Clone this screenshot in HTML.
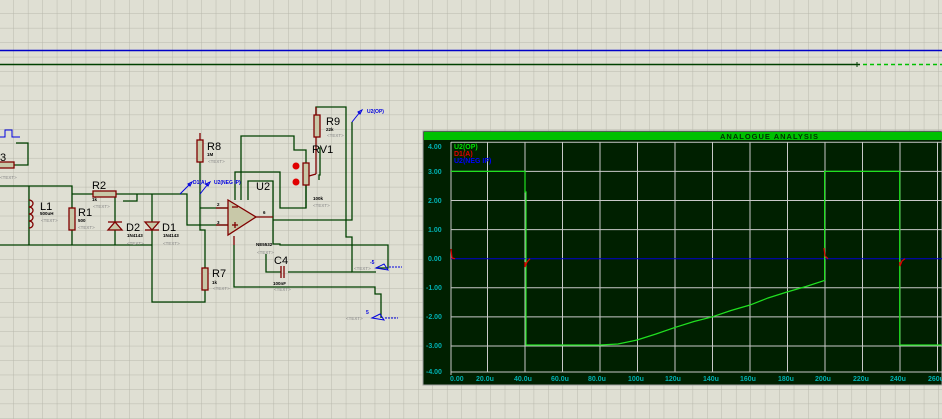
<!DOCTYPE html>
<html><head><meta charset="utf-8"><style>
html,body{margin:0;padding:0;background:#dfdfd3;overflow:hidden}
svg{display:block}
text{font-family:"Liberation Sans",sans-serif}
</style></head><body>
<svg width="942" height="419" viewBox="0 0 942 419" xmlns="http://www.w3.org/2000/svg">
<defs>
<pattern id="g" width="14.45" height="14.45" patternUnits="userSpaceOnUse" x="-0.5" y="-0.5">
<path d="M14.45 0V14.45M0 14.45H14.45" stroke="#b8b8ac" stroke-width="1" fill="none"/>
</pattern>
</defs>
<rect width="942" height="419" fill="#dfdfd3"/>
<rect width="942" height="419" fill="url(#g)"/>
<!-- top lines -->
<line x1="0" y1="50.5" x2="942" y2="50.5" stroke="#0000c8" stroke-width="1.5"/>
<line x1="0" y1="64.5" x2="860" y2="64.5" stroke="#004000" stroke-width="1.5"/>
<line x1="857" y1="62" x2="857" y2="67" stroke="#004000"/>
<line x1="863" y1="64.5" x2="942" y2="64.5" stroke="#00c000" stroke-width="1.5" stroke-dasharray="4,3"/>

<g fill="none" stroke="#004000" stroke-width="1.3">
<!-- left source -->
<polyline points="14,165 28,165 28,143 16,143"/>
<polyline points="0,186 72,186 72,208"/>
<line x1="29" y1="186" x2="29" y2="245"/>
<polyline points="0,245 152,245"/>
<line x1="72" y1="230" x2="72" y2="245"/>
<polyline points="72,194 93,194"/>
<polyline points="116,194 187,194 187,225 228,225"/>
<polyline points="123,201 137,201 137,194"/>
<line x1="115" y1="194" x2="115" y2="245"/>
<polyline points="152,194 152,302 205,302 205,290"/>
<polyline points="205,268 205,230 200,230 200,162"/>
<polyline points="200,208 228,208"/>
<!-- op amp surroundings -->
<polyline points="241,200 241,136 294,136 294,150 306,150 306,163"/>
<polyline points="235,200 235,172 280,172 280,208 306,208 306,185"/>
<polyline points="248,200 248,181 273,181 273,244 280,244 280,245 388,245 388,268 376,268"/>
<polyline points="273,220 352,220 352,122"/>
<polyline points="306,185 306,208"/>
<polyline points="316,133 316,107 346,107 346,237 352,237 352,272 376,272"/>
<polyline points="319,180 319,175 320,175 320,148 319,148"/>
<polyline points="234,245 234,287 375,287 375,294 381,294 381,318"/>
<polyline points="266,254 266,272 281,272"/>
<polyline points="288,272 352,272"/>
</g>

<!-- components (maroon) -->
<g fill="#c8c8a8" stroke="#800000" stroke-width="1.3">
<rect x="-6" y="162" width="20" height="6"/>
<rect x="69" y="208" width="6" height="22"/>
<rect x="93" y="191" width="23" height="6"/>
<rect x="197" y="140" width="6" height="22"/>
<rect x="202" y="268" width="6" height="22"/>
<rect x="314" y="115" width="6" height="22"/>
<rect x="303" y="163" width="6" height="22"/>
<polygon points="228,200 228,235 256,217"/>
</g>
<g fill="none" stroke="#800000" stroke-width="1.3">
<line x1="200" y1="133" x2="200" y2="140"/>
<line x1="316" y1="107" x2="316" y2="115"/>
<line x1="316" y1="137" x2="316" y2="174"/>
<line x1="316" y1="174" x2="309" y2="176"/>
<path d="M29,200 a4,3.5 0 1 1 0,7 a4,3.5 0 1 1 0,7 a4,3.5 0 1 1 0,7 a4,3.5 0 1 1 0,7"/>
<polygon points="108,230 122,230 115,222" fill="#c8c8a8"/>
<line x1="108" y1="222" x2="122" y2="222"/>
<polygon points="145,222 159,222 152,230" fill="#c8c8a8"/>
<line x1="145" y1="230" x2="159" y2="230"/>
<line x1="216" y1="208" x2="228" y2="208"/>
<line x1="216" y1="225" x2="228" y2="225"/>
<line x1="256" y1="217" x2="273" y2="217"/>
<line x1="234" y1="236" x2="234" y2="245"/>
<line x1="281" y1="266" x2="281" y2="278"/>
<line x1="284" y1="266" x2="284" y2="278"/>
<line x1="232" y1="207" x2="238" y2="207"/>
<line x1="232" y1="225" x2="238" y2="225"/><line x1="235" y1="222" x2="235" y2="228"/>
</g>
<circle cx="296" cy="166" r="3.5" fill="#e00000"/>
<circle cx="296" cy="182" r="3.5" fill="#e00000"/>

<!-- labels -->
<g font-size="11" fill="#000">
<text x="0" y="161">3</text>
<text x="40" y="210">L1</text>
<text x="78" y="216">R1</text>
<text x="92" y="189">R2</text>
<text x="126" y="231">D2</text>
<text x="162" y="231">D1</text>
<text x="207" y="150">R8</text>
<text x="212" y="277">R7</text>
<text x="256" y="190">U2</text>
<text x="274" y="264">C4</text>
<text x="326" y="125">R9</text>
<text x="312" y="153">RV1</text>
</g>
<g font-size="4.5" fill="#000" font-weight="bold">
<text x="40" y="215">500uH</text>
<text x="78" y="222">500</text>
<text x="92" y="201">1k</text>
<text x="127" y="237">1N4143</text>
<text x="163" y="237">1N4143</text>
<text x="207" y="156">1M</text>
<text x="212" y="284">1k</text>
<text x="326" y="131">22k</text>
<text x="313" y="200">100k</text>
<text x="273" y="285">100nF</text>
<text x="256" y="246">NE5532</text>
<text x="217" y="206">2</text><text x="217" y="224">3</text><text x="263" y="214">6</text>
</g>
<g font-size="4.5" fill="#888">
<text x="0" y="179">&lt;TEXT&gt;</text>
<text x="41" y="222">&lt;TEXT&gt;</text>
<text x="78" y="229">&lt;TEXT&gt;</text>
<text x="93" y="208">&lt;TEXT&gt;</text>
<text x="127" y="245">&lt;TEXT&gt;</text>
<text x="163" y="245">&lt;TEXT&gt;</text>
<text x="208" y="163">&lt;TEXT&gt;</text>
<text x="213" y="290">&lt;TEXT&gt;</text>
<text x="327" y="137">&lt;TEXT&gt;</text>
<text x="313" y="207">&lt;TEXT&gt;</text>
<text x="257" y="254">&lt;TEXT&gt;</text>
<text x="274" y="291">&lt;TEXT&gt;</text>
<text x="354" y="270">&lt;TEXT&gt;</text>
<text x="346" y="320">&lt;TEXT&gt;</text>
</g>
<!-- probes -->
<g fill="none" stroke="#0000e0" stroke-width="1">
<polyline points="0,137 5,137 5,130 12,130 12,137 20,137"/>
<line x1="180" y1="194" x2="190" y2="184"/><polygon points="188,184 192,182 190,186"/>
<line x1="200" y1="194" x2="208" y2="184"/><polygon points="206,184 210,182 208,186"/>
<line x1="352" y1="122" x2="360" y2="112"/><polygon points="358,112 362,110 360,114"/>
<polygon points="376,268 384,264 388,270"/><line x1="389" y1="267" x2="402" y2="267" stroke-dasharray="2,1"/>
<polygon points="372,318 380,314 384,320"/><line x1="385" y1="318" x2="398" y2="318" stroke-dasharray="2,1"/>
</g>
<g font-size="5" fill="#0000e0" font-weight="bold">
<text x="193" y="184">D1(A)</text>
<text x="214" y="184">U2(NEG IP)</text>
<text x="367" y="113">U2(OP)</text>
<text x="370" y="264">-5</text>
<text x="366" y="314">5</text>
</g>

<!-- analysis graph -->
<rect x="423" y="131" width="519" height="254" fill="#002000" stroke="#a0a0a0"/>
<rect x="424" y="132" width="518" height="8" fill="#00c000"/>
<text x="720" y="139" font-size="7.5" fill="#003000" font-weight="bold" letter-spacing="1">ANALOGUE ANALYSIS</text>
<g stroke="#c8c8c8" stroke-width="1">
<line x1="451" y1="142" x2="451" y2="375"/>
<line x1="487.5" y1="142" x2="487.5" y2="372"/><line x1="525" y1="142" x2="525" y2="372"/>
<line x1="562.5" y1="142" x2="562.5" y2="372"/><line x1="600" y1="142" x2="600" y2="372"/>
<line x1="637.5" y1="142" x2="637.5" y2="372"/><line x1="675" y1="142" x2="675" y2="372"/>
<line x1="712.5" y1="142" x2="712.5" y2="372"/><line x1="750" y1="142" x2="750" y2="372"/>
<line x1="787.5" y1="142" x2="787.5" y2="372"/><line x1="825" y1="142" x2="825" y2="372"/>
<line x1="862.5" y1="142" x2="862.5" y2="372"/><line x1="900" y1="142" x2="900" y2="372"/>
<line x1="937.5" y1="142" x2="937.5" y2="372"/>
<line x1="451" y1="142.3" x2="942" y2="142.3"/><line x1="451" y1="171.4" x2="942" y2="171.4"/>
<line x1="451" y1="200.5" x2="942" y2="200.5"/><line x1="451" y1="229.6" x2="942" y2="229.6"/>
<line x1="451" y1="287.8" x2="942" y2="287.8"/><line x1="451" y1="316.9" x2="942" y2="316.9"/>
<line x1="451" y1="346" x2="942" y2="346"/><line x1="451" y1="372" x2="942" y2="372"/>
</g>
<g fill="#00b0b0" font-size="7" font-family="Liberation Mono" font-weight="bold">
<text x="428" y="149">4.00</text><text x="428" y="174">3.00</text><text x="428" y="203">2.00</text>
<text x="428" y="232">1.00</text><text x="428" y="261">0.00</text><text x="426" y="290">-1.00</text>
<text x="426" y="319">-2.00</text><text x="426" y="348">-3.00</text><text x="426" y="374">-4.00</text>
<text x="450" y="381">0.00</text><text x="476" y="381">20.0u</text><text x="514" y="381">40.0u</text>
<text x="551" y="381">60.0u</text><text x="588" y="381">80.0u</text><text x="628" y="381">100u</text>
<text x="665" y="381">120u</text><text x="703" y="381">140u</text><text x="740" y="381">160u</text>
<text x="778" y="381">180u</text><text x="815" y="381">200u</text><text x="853" y="381">220u</text>
<text x="890" y="381">240u</text><text x="928" y="381">260u</text>
</g>
<g font-size="7" font-family="Liberation Mono" font-weight="bold">
<text x="454" y="149" fill="#00e000">U2(OP)</text>
<text x="454" y="156" fill="#e00000">D1(A)</text>
<text x="454" y="163" fill="#0000ff">U2(NEG IP)</text>
</g>
<line x1="451" y1="258.7" x2="942" y2="258.7" stroke="#0000d0" stroke-width="1"/>
<g fill="none" stroke="#20e020" stroke-width="1.2">
<polyline points="451,171.4 525,171.4 525,192 526,192 526,345 599.8,345 618,344 637,340 656,334 675,327.4 694,321.5 712,316.9 731,310.5 750,305 768,298 787,292 806,286.5 824.6,280.5 824.6,171.4 899.7,171.4 899.7,345 942,345"/>
</g>
<g fill="none" stroke="#e00000" stroke-width="1.2">
<polyline points="451,249 452,258 455,258.7"/>
<polyline points="525,262 525,267 527,262 530,258.7"/>
<polyline points="824,248 825,256 828,258.7"/>
<polyline points="899.7,262 900,266 902,261 905,258.7"/>
</g>
</svg>
</body></html>
